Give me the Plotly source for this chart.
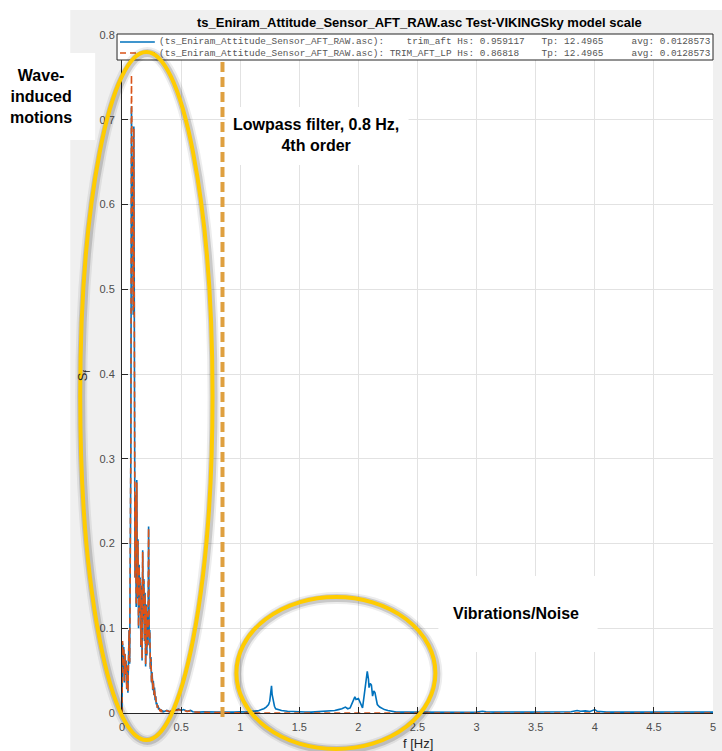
import numpy as np
import plotly.graph_objects as go

# ---------------------------------------------------------------------------
# Spectral density S_f of the aft trim signal: raw (trim_aft) and low-passed
# (TRIM_AFT_LP). The wave band 0 - 0.35 Hz is stored on a 0.005 Hz grid, the
# rest of the spectrum on sparser frequency points.
# ---------------------------------------------------------------------------
F_LOW = np.round(np.arange(0.0, 0.3501, 0.005), 3)

S_RAW_LOW = [
    0.000, 0.082, 0.052, 0.078, 0.036, 0.070, 0.045, 0.062, 0.028, 0.055,
    0.024, 0.048, 0.098, 0.058, 0.135, 0.310, 0.716, 0.627, 0.655, 0.470,
    0.692, 0.290, 0.160, 0.257, 0.125, 0.275, 0.135, 0.205, 0.100, 0.175,
    0.118, 0.160, 0.078, 0.150, 0.062, 0.192, 0.112, 0.158, 0.085, 0.142,
    0.055, 0.128, 0.068, 0.120, 0.080, 0.220, 0.090, 0.098, 0.052, 0.066,
    0.036, 0.048, 0.027, 0.038, 0.021, 0.030, 0.015, 0.020, 0.010, 0.012,
    0.006, 0.009, 0.004, 0.006, 0.003, 0.004, 0.002, 0.003, 0.0018, 0.0025,
    0.0015,
]

S_LP_LOW = [
    0.000, 0.085, 0.054, 0.077, 0.038, 0.071, 0.046, 0.061, 0.029, 0.056,
    0.025, 0.049, 0.097, 0.060, 0.140, 0.320, 0.753, 0.622, 0.650, 0.475,
    0.690, 0.292, 0.158, 0.255, 0.127, 0.272, 0.137, 0.203, 0.102, 0.173,
    0.120, 0.158, 0.080, 0.148, 0.064, 0.190, 0.110, 0.156, 0.087, 0.140,
    0.057, 0.126, 0.070, 0.118, 0.082, 0.218, 0.092, 0.096, 0.054, 0.064,
    0.037, 0.047, 0.028, 0.037, 0.022, 0.029, 0.016, 0.019, 0.010, 0.011,
    0.006, 0.008, 0.004, 0.005, 0.003, 0.0035, 0.002, 0.0028, 0.0017, 0.0022,
    0.0014,
]

F_RAW_HIGH = [
    0.36, 0.38, 0.40, 0.42, 0.45, 0.48, 0.50, 0.52, 0.55, 0.58,
    0.60, 0.65, 0.70, 0.75, 0.80, 0.85, 0.90, 0.95, 1.00, 1.05,
    1.10, 1.15, 1.18, 1.20, 1.22, 1.24, 1.25, 1.26, 1.265, 1.27,
    1.28, 1.29, 1.30, 1.32, 1.35, 1.40, 1.45, 1.50, 1.55, 1.60,
    1.65, 1.70, 1.75, 1.80, 1.83, 1.86, 1.89, 1.91, 1.93, 1.95,
    1.97, 1.98, 2.00, 2.01, 2.02, 2.035, 2.05, 2.06, 2.075, 2.085,
    2.09, 2.10, 2.11, 2.12, 2.13, 2.14, 2.15, 2.16, 2.18, 2.20,
    2.22, 2.25, 2.28, 2.32, 2.40, 2.50, 2.60, 2.70, 2.80, 2.90,
    3.00, 3.05, 3.08, 3.15, 3.25, 3.35, 3.45, 3.55, 3.65, 3.75,
    3.80, 3.85, 3.88, 3.92, 3.96, 4.00, 4.02, 4.10, 4.20, 4.35,
    4.50, 4.65, 4.80, 4.90, 5.00,
]
S_RAW_HIGH = [
    0.0020, 0.0030, 0.0015, 0.0022, 0.0030, 0.0045, 0.0030, 0.0040, 0.0020, 0.0030,
    0.0015, 0.0010, 0.0015, 0.0010, 0.0012, 0.0010, 0.0008, 0.0010, 0.0015, 0.0010,
    0.0020, 0.0025, 0.0040, 0.0050, 0.0070, 0.0100, 0.0140, 0.0260, 0.0320, 0.0220,
    0.0120, 0.0080, 0.0050, 0.0040, 0.0030, 0.0020, 0.0015, 0.0010, 0.0012, 0.0010,
    0.0015, 0.0020, 0.0020, 0.0030, 0.0040, 0.0050, 0.0070, 0.0050, 0.0060, 0.0120,
    0.0190, 0.0160, 0.0170, 0.0140, 0.0100, 0.0060, 0.0220, 0.0360, 0.0490, 0.0400,
    0.0300, 0.0350, 0.0330, 0.0200, 0.0260, 0.0240, 0.0140, 0.0100, 0.0070, 0.0050,
    0.0040, 0.0030, 0.0020, 0.0010, 0.0010, 0.0008, 0.0010, 0.0008, 0.0010, 0.0008,
    0.0010, 0.0020, 0.0015, 0.0010, 0.0012, 0.0008, 0.0010, 0.0012, 0.0010, 0.0012,
    0.0015, 0.0030, 0.0020, 0.0025, 0.0018, 0.0040, 0.0020, 0.0010, 0.0012, 0.0008,
    0.0010, 0.0012, 0.0008, 0.0012, 0.0010,
]

F_LP_HIGH = [
    0.36, 0.38, 0.40, 0.42, 0.45, 0.48, 0.50, 0.52, 0.55, 0.58,
    0.60, 0.65, 0.70, 0.75, 0.80, 0.90, 1.00, 1.50, 2.00, 3.00,
    4.00, 5.00,
]
S_LP_HIGH = [
    0.0020, 0.0028, 0.0015, 0.0020, 0.0028, 0.0040, 0.0028, 0.0035, 0.0018, 0.0025,
    0.0012, 0.0008, 0.0008, 0.0005, 0.0005, 0.0002, 0.0001, 0.0000, 0.0000, 0.0000,
    0.0000, 0.0000,
]

F_RAW = list(F_LOW) + F_RAW_HIGH
S_RAW = S_RAW_LOW + S_RAW_HIGH
F_LP = list(F_LOW) + F_LP_HIGH
S_LP = S_LP_LOW + S_LP_HIGH

X_TICKS = [0, 0.5, 1, 1.5, 2, 2.5, 3, 3.5, 4, 4.5, 5]
Y_TICKS = [0, 0.1, 0.2, 0.3, 0.4, 0.5, 0.6, 0.7, 0.8]

TITLE = "ts_Eniram_Attitude_Sensor_AFT_RAW.asc Test-VIKINGSky model scale"
LEGEND_ROWS = [
    "(ts_Eniram_Attitude_Sensor_AFT_RAW.asc):    trim_aft Hs: 0.959117   Tp: 12.4965     avg: 0.0128573",
    "(ts_Eniram_Attitude_Sensor_AFT_RAW.asc): TRIM_AFT_LP Hs: 0.86818    Tp: 12.4965     avg: 0.0128573",
]

# ---------------------------------------------------------------------------
W, H = 722, 751
ML, MR, MT, MB = 122, 6, 35, 38
PW, PH = W - ML - MR, H - MT - MB


def px(x):
    """pixel column -> paper x"""
    return (x - ML) / PW


def py(y):
    """pixel row -> paper y"""
    return (H - MB - y) / PH


BLUE = "#0072BD"
ORANGE = "#D95319"
GOLD = "#FFCC00"
FILTER = "#DFA040"
SANS = "Liberation Sans, Arial, sans-serif"
MONO = "Liberation Mono, Courier New, monospace"

fig = go.Figure()
fig.add_trace(go.Scatter(x=F_RAW, y=S_RAW, mode="lines", name="trim_aft",
                         line=dict(color=BLUE, width=1.6)))
fig.add_trace(go.Scatter(x=F_LP, y=S_LP, mode="lines", name="TRIM_AFT_LP",
                         line=dict(color=ORANGE, width=1.6, dash="6px,4px")))

shapes = []
# figure background panel and white plot area
shapes.append(dict(type="rect", xref="paper", yref="paper", layer="below",
                   x0=px(70), x1=px(W + 5), y0=py(H + 5), y1=py(10),
                   fillcolor="#f0f0f0", line=dict(width=0)))
shapes.append(dict(type="rect", xref="paper", yref="paper", layer="below",
                   x0=0, x1=1, y0=0, y1=1, fillcolor="white", line=dict(width=0)))
shapes.append(dict(type="rect", xref="paper", yref="paper", layer="below",
                   x0=px(-5), x1=px(95), y0=py(140), y1=py(53),
                   fillcolor="white", line=dict(width=0)))
# white label boxes over the grid
for x0, x1, y0, y1 in [(226, 410, 107, 165), (440, 600, 576, 652)]:
    shapes.append(dict(type="rect", xref="paper", yref="paper", layer="above",
                       x0=px(x0), x1=px(x1), y0=py(y1), y1=py(y0),
                       fillcolor="white", line=dict(width=0)))
# legend frame and line samples
shapes.append(dict(type="rect", xref="paper", yref="paper", layer="above",
                   x0=px(117), x1=px(716), y0=py(60), y1=py(34),
                   fillcolor="white", line=dict(color="#262626", width=1)))
shapes.append(dict(type="line", xref="paper", yref="paper", layer="above",
                   x0=px(120), x1=px(155), y0=py(42), y1=py(42),
                   line=dict(color=BLUE, width=1.4)))
shapes.append(dict(type="line", xref="paper", yref="paper", layer="above",
                   x0=px(120), x1=px(155), y0=py(53), y1=py(53),
                   line=dict(color=ORANGE, width=1.4, dash="6px,4px")))
# lowpass cut-off marker
shapes.append(dict(type="line", xref="paper", yref="paper", layer="above",
                   x0=px(223), x1=px(223), y0=py(62), y1=py(722),
                   line=dict(color=FILTER, width=4, dash="10px,5px")))
# highlight ellipses with a soft grey halo
for x0, x1, y0, y1 in [(80, 213, 52, 740), (237, 437, 597, 749)]:
    for col, wd in [("rgba(0,0,0,0.07)", 12), ("rgba(0,0,0,0.15)", 8)]:
        shapes.append(dict(type="circle", xref="paper", yref="paper", layer="above",
                           x0=px(x0 + 1), x1=px(x1 + 1), y0=py(y1 + 1), y1=py(y0 + 1),
                           line=dict(color=col, width=wd)))
    shapes.append(dict(type="circle", xref="paper", yref="paper", layer="above",
                       x0=px(x0), x1=px(x1), y0=py(y1), y1=py(y0),
                       line=dict(color=GOLD, width=4)))

annotations = []


def note(text, x, y, size, color="#000000", family=SANS, xanchor="center",
         angle=0, align="center"):
    annotations.append(dict(text=text, xref="paper", yref="paper", x=px(x), y=py(y),
                            xanchor=xanchor, yanchor="middle", showarrow=False,
                            textangle=angle, align=align,
                            font=dict(family=family, size=size, color=color)))


note("<b>" + TITLE + "</b>", 421, 23, 13)
for row, yy in zip(LEGEND_ROWS, [42, 53]):
    note(row.replace(" ", "\u00a0"), 157, yy, 9.4, color="#555555",
         family=MONO, xanchor="left", align="left")
note("<b>Wave-<br>induced<br>motions</b>", 41, 97, 16)
note("<b>Lowpass filter, 0.8 Hz,<br>4th order</b>", 317, 135, 16)
note("<b>Vibrations/Noise</b>", 518, 613, 16)
note("f [Hz]", 420, 743, 13, color="#262626")
note("S<sub>f</sub>", 83, 375, 13, color="#262626", angle=-90)

axis_common = dict(
    showline=True, linecolor="#262626", linewidth=1, mirror=False,
    ticks="inside", ticklen=6, tickcolor="#262626", tickwidth=1,
    showgrid=True, gridcolor="#e2e2e2", gridwidth=1, zeroline=False,
    tickfont=dict(family=SANS, size=11, color="#4d4d4d"),
)

fig.update_layout(
    width=W, height=H,
    margin=dict(l=ML, r=MR, t=MT, b=MB, pad=0),
    paper_bgcolor="white", plot_bgcolor="white",
    showlegend=False,
    xaxis=dict(range=[0, 5], tickvals=X_TICKS, ticktext=[f"{v:g}" for v in X_TICKS],
               ticklabelstandoff=4, **axis_common),
    yaxis=dict(range=[0, 0.8], tickvals=Y_TICKS, ticktext=[f"{v:g}" for v in Y_TICKS],
               ticklabelstandoff=4, **axis_common),
    shapes=shapes,
    annotations=annotations,
)

fig.write_html("out.html")
